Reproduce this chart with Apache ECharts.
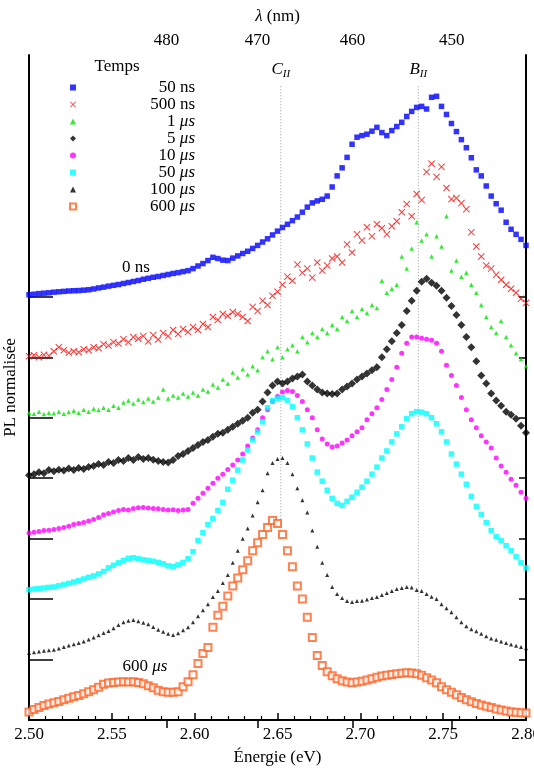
<!DOCTYPE html>
<html lang="fr">
<head>
<meta charset="UTF-8">
<title>PL résolue en temps</title>
<script src="https://cdn.jsdelivr.net/npm/echarts@6.0.0/dist/echarts.min.js"></script>
<style>
  html, body { margin: 0; padding: 0; background: #fff; }
  #main { width: 534px; height: 771px; }
</style>
</head>
<body>
<div id="main"></div>
<script>
var energy = [
  2.500,2.503,2.506,2.509,2.512,2.515,2.518,2.521,2.524,2.527,
  2.530,2.533,2.536,2.539,2.542,2.545,2.548,2.551,2.554,2.557,
  2.560,2.563,2.566,2.569,2.572,2.575,2.578,2.581,2.584,2.587,
  2.590,2.593,2.596,2.599,2.602,2.605,2.608,2.611,2.614,2.617,
  2.620,2.623,2.626,2.629,2.632,2.635,2.638,2.641,2.644,2.647,
  2.650,2.653,2.656,2.659,2.662,2.665,2.668,2.671,2.674,2.677,
  2.680,2.683,2.686,2.689,2.692,2.695,2.698,2.701,2.704,2.707,
  2.710,2.713,2.716,2.719,2.722,2.725,2.728,2.731,2.734,2.737,
  2.740,2.743,2.746,2.749,2.752,2.755,2.758,2.761,2.764,2.767,
  2.770,2.773,2.776,2.779,2.782,2.785,2.788,2.791,2.794,2.797,
  2.800
];

var pl50ns = [
  0.010,0.013,0.016,0.018,0.020,0.023,0.025,0.027,0.029,0.030,
  0.031,0.033,0.035,0.039,0.044,0.048,0.053,0.057,0.061,0.066,
  0.071,0.076,0.081,0.087,0.092,0.097,0.101,0.106,0.111,0.116,
  0.120,0.125,0.130,0.140,0.153,0.165,0.180,0.196,0.190,0.182,
  0.180,0.192,0.203,0.215,0.226,0.240,0.255,0.272,0.288,0.307,
  0.326,0.344,0.360,0.378,0.396,0.420,0.445,0.466,0.476,0.484,
  0.500,0.545,0.600,0.640,0.692,0.757,0.792,0.800,0.807,0.822,
  0.841,0.815,0.800,0.825,0.845,0.866,0.895,0.920,0.940,0.945,
  0.932,0.990,0.995,0.945,0.905,0.860,0.820,0.780,0.740,0.690,
  0.630,0.600,0.550,0.500,0.462,0.430,0.370,0.335,0.310,0.285,
  0.255
];
var pl500ns = [
  0.005,0.010,0.000,0.012,0.008,0.030,0.050,0.035,0.022,0.030,
  0.025,0.040,0.035,0.050,0.045,0.065,0.058,0.075,0.068,0.090,
  0.075,0.100,0.092,0.105,0.078,0.110,0.088,0.120,0.105,0.135,
  0.115,0.140,0.125,0.150,0.135,0.165,0.150,0.200,0.185,0.215,
  0.205,0.225,0.215,0.200,0.180,0.250,0.230,0.280,0.260,0.305,
  0.325,0.360,0.400,0.380,0.460,0.420,0.440,0.395,0.470,0.430,
  0.455,0.490,0.500,0.470,0.560,0.520,0.610,0.580,0.645,0.600,
  0.660,0.640,0.610,0.650,0.675,0.720,0.760,0.700,0.810,0.780,
  0.920,0.960,0.895,0.945,0.840,0.785,0.790,0.765,0.735,0.620,
  0.550,0.500,0.455,0.440,0.410,0.385,0.360,0.340,0.320,0.290,
  0.270
];
var pl1us = [
  0.025,0.020,0.030,0.018,0.025,0.022,0.030,0.020,0.028,0.035,
  0.025,0.040,0.030,0.045,0.038,0.050,0.040,0.060,0.050,0.075,
  0.085,0.070,0.090,0.078,0.095,0.080,0.100,0.140,0.095,0.110,
  0.100,0.120,0.105,0.125,0.110,0.140,0.130,0.165,0.150,0.190,
  0.170,0.225,0.200,0.240,0.215,0.255,0.235,0.300,0.330,0.290,
  0.350,0.300,0.340,0.360,0.330,0.400,0.375,0.420,0.400,0.440,
  0.420,0.460,0.440,0.500,0.480,0.530,0.500,0.540,0.520,0.560,
  0.545,0.680,0.620,0.640,0.660,0.800,0.740,0.840,0.970,0.880,
  0.910,0.800,0.900,0.850,1.000,0.730,0.780,0.700,0.720,0.660,
  0.620,0.560,0.500,0.450,0.420,0.480,0.400,0.360,0.320,0.290,
  0.255
];
var pl5us = [
  0.015,0.020,0.030,0.025,0.040,0.035,0.042,0.038,0.048,0.040,
  0.050,0.045,0.055,0.060,0.070,0.065,0.080,0.075,0.090,0.085,
  0.100,0.090,0.105,0.095,0.100,0.092,0.085,0.080,0.078,0.090,
  0.110,0.120,0.135,0.150,0.165,0.180,0.190,0.205,0.220,0.225,
  0.240,0.255,0.270,0.285,0.300,0.325,0.340,0.380,0.425,0.460,
  0.480,0.470,0.480,0.495,0.505,0.515,0.480,0.460,0.440,0.425,
  0.420,0.418,0.420,0.440,0.455,0.470,0.490,0.505,0.520,0.535,
  0.550,0.600,0.640,0.680,0.720,0.760,0.830,0.880,0.930,0.975,
  0.990,0.970,0.955,0.930,0.895,0.855,0.810,0.760,0.700,0.650,
  0.580,0.510,0.470,0.420,0.385,0.360,0.330,0.315,0.295,0.260,
  0.225
];
var pl10us = [
  0.028,0.032,0.035,0.040,0.042,0.045,0.050,0.055,0.062,0.070,
  0.075,0.080,0.087,0.095,0.105,0.118,0.125,0.132,0.140,0.145,
  0.142,0.150,0.153,0.155,0.152,0.150,0.148,0.145,0.142,0.143,
  0.140,0.142,0.145,0.175,0.200,0.225,0.250,0.275,0.300,0.320,
  0.343,0.365,0.390,0.420,0.460,0.500,0.540,0.600,0.640,0.680,
  0.705,0.728,0.735,0.730,0.710,0.680,0.640,0.600,0.540,0.495,
  0.470,0.455,0.460,0.475,0.490,0.510,0.530,0.550,0.590,0.620,
  0.650,0.690,0.740,0.790,0.850,0.920,0.970,1.000,1.000,0.995,
  0.990,0.985,0.970,0.930,0.860,0.810,0.760,0.700,0.640,0.590,
  0.550,0.510,0.480,0.450,0.400,0.360,0.330,0.295,0.265,0.230,
  0.200
];
var pl50us = [
  0.046,0.050,0.052,0.055,0.058,0.060,0.066,0.072,0.078,0.085,
  0.092,0.100,0.108,0.115,0.125,0.137,0.155,0.168,0.180,0.192,
  0.202,0.205,0.200,0.195,0.192,0.188,0.182,0.175,0.165,0.162,
  0.170,0.182,0.200,0.235,0.290,0.330,0.370,0.400,0.440,0.480,
  0.545,0.590,0.640,0.690,0.740,0.790,0.830,0.880,0.950,0.985,
  0.995,1.000,0.985,0.955,0.900,0.840,0.770,0.700,0.630,0.585,
  0.540,0.500,0.475,0.465,0.485,0.505,0.530,0.555,0.585,0.620,
  0.655,0.700,0.735,0.780,0.820,0.855,0.895,0.920,0.930,0.928,
  0.920,0.900,0.870,0.830,0.780,0.720,0.670,0.620,0.570,0.510,
  0.460,0.420,0.380,0.340,0.310,0.290,0.265,0.240,0.210,0.180,
  0.155
];
var pl100us = [
  0.032,0.036,0.040,0.044,0.046,0.048,0.055,0.062,0.070,0.076,
  0.082,0.090,0.100,0.110,0.120,0.132,0.142,0.155,0.172,0.185,
  0.192,0.196,0.190,0.182,0.175,0.162,0.148,0.138,0.128,0.122,
  0.130,0.145,0.160,0.185,0.215,0.245,0.275,0.310,0.340,0.380,
  0.420,0.480,0.540,0.600,0.650,0.715,0.780,0.840,0.925,0.975,
  0.995,1.000,0.975,0.920,0.850,0.790,0.730,0.640,0.560,0.480,
  0.420,0.360,0.325,0.305,0.290,0.285,0.290,0.292,0.298,0.305,
  0.310,0.320,0.330,0.340,0.350,0.355,0.360,0.358,0.345,0.340,
  0.325,0.312,0.300,0.275,0.255,0.235,0.210,0.185,0.165,0.150,
  0.140,0.128,0.115,0.105,0.098,0.090,0.082,0.075,0.068,0.062,
  0.056
];
var pl600us = [
  0.040,0.052,0.062,0.072,0.080,0.086,0.092,0.100,0.108,0.115,
  0.122,0.130,0.140,0.150,0.162,0.178,0.184,0.186,0.188,0.190,
  0.188,0.190,0.186,0.180,0.170,0.160,0.148,0.140,0.138,0.138,
  0.140,0.165,0.190,0.225,0.280,0.330,0.360,0.460,0.520,0.565,
  0.615,0.665,0.705,0.745,0.790,0.840,0.880,0.920,0.955,0.990,
  0.975,0.920,0.840,0.760,0.665,0.600,0.510,0.410,0.320,0.270,
  0.240,0.220,0.205,0.195,0.188,0.185,0.188,0.192,0.198,0.205,
  0.212,0.218,0.222,0.226,0.230,0.232,0.234,0.233,0.230,0.222,
  0.210,0.198,0.185,0.165,0.150,0.138,0.125,0.112,0.100,0.090,
  0.082,0.075,0.068,0.062,0.055,0.050,0.045,0.040,0.038,0.036,
  0.035
];

// délais et décalage vertical de chaque spectre
var delays = ['50 ns', '500 ns', '1 μs', '5 μs', '10 μs', '50 μs', '100 μs', '600 μs'];
var offsets = [2.1, 1.8, 1.5, 1.2, 0.9, 0.6, 0.3, 0];
var spectra = [pl50ns, pl500ns, pl1us, pl5us, pl10us, pl50us, pl100us, pl600us];
var colors = ['#0000ff', '#ff0000', '#00e600', '#000000', '#ff00ff', '#00ffff', '#000000', '#ff6326'];
var symbols = [
  'rect',
  'path://M0,1L1,0L5,4L9,0L10,1L6,5L10,9L9,10L5,6L1,10L0,9L4,5Z',
  'triangle',
  'diamond',
  'circle',
  'rect',
  'triangle',
  'emptyRect'
];
var symbolSizes = [5.5, 7, 4.5, 8, 5, 5.5, 4, 7];

// raies C_II et B_II
var peakNames = ['C', 'B'];
var peakEnergy = [2.652, 2.735];
var peakTop = 3.145;
var peakBottom = [0.94, 0.238];

var lambdaTicks = [480, 470, 460, 450];
var hc = 1239.84;

var FONT = 'Liberation Serif';
var myChart = echarts.init(document.getElementById('main'), null, { renderer: 'canvas' });

var series = [];
for (var s = 0; s < spectra.length; s++) {
  var pts = [];
  for (var i = 0; i < energy.length; i++) {
    pts.push([energy[i], spectra[s][i] + offsets[s]]);
  }
  series.push({
    name: delays[s],
    type: 'scatter',
    data: pts,
    symbol: symbols[s],
    symbolSize: symbolSizes[s],
    itemStyle: s === 7
      ? { color: colors[s], borderColor: colors[s], borderWidth: 1.2 }
      : { color: colors[s] },
    z: 3
  });
}

for (var k = 0; k < peakNames.length; k++) {
  series.push({
    type: 'line',
    data: [
      {
        value: [peakEnergy[k], peakTop],
        label: {
          show: true,
          position: 'top',
          distance: 7,
          formatter: '{a|' + peakNames[k] + '}{b|II}',
          rich: {
            a: { fontFamily: FONT, fontSize: 17, fontStyle: 'italic', color: '#000', lineHeight: 20 },
            b: { fontFamily: FONT, fontSize: 11, fontStyle: 'italic', color: '#000', lineHeight: 14, verticalAlign: 'bottom' }
          }
        }
      },
      [peakEnergy[k], peakBottom[k]]
    ],
    symbol: 'circle',
    symbolSize: 0,
    lineStyle: { color: '#9a9a9a', width: 1, type: [1, 2] },
    silent: true,
    z: 1
  });
}

var option = {
  animation: false,
  backgroundColor: '#fff',
  textStyle: { fontFamily: FONT, color: '#000' },
  grid: { left: 29, right: 8, top: 55, bottom: 51, outerBoundsMode: 'none' },
  legend: {
    data: delays,
    orient: 'vertical',
    left: 64,
    top: 74,
    itemGap: 0,
    itemWidth: 6,
    itemHeight: 6,
    selectedMode: false,
    formatter: function (name) {
      var p = name.split(' ');
      var unit = p[1] === 'ns' ? '{u|ns}' : '{i|μs}';
      return '{n|' + p[0] + ' }' + unit;
    },
    textStyle: {
      fontFamily: FONT,
      fontSize: 17,
      color: '#000',
      lineHeight: 15,
      width: 114,
      rich: {
        n: { fontFamily: FONT, fontSize: 17, align: 'right', lineHeight: 15 },
        u: { fontFamily: FONT, fontSize: 17, align: 'right', lineHeight: 15 },
        i: { fontFamily: FONT, fontSize: 17, fontStyle: 'italic', align: 'right', lineHeight: 15 }
      }
    }
  },
  xAxis: [
    {
      type: 'value',
      position: 'bottom',
      min: 2.5,
      max: 2.8,
      interval: 0.05,
      name: 'Énergie (eV)',
      nameLocation: 'middle',
      nameGap: 29,
      nameTextStyle: { fontFamily: FONT, fontSize: 17, color: '#000' },
      axisLine: { lineStyle: { color: '#000', width: 2 } },
      axisTick: { inside: true, length: 7, lineStyle: { color: '#000', width: 1.5 } },
      minorTick: { show: true, splitNumber: 5, length: 4, lineStyle: { color: '#000', width: 1.2 } },
      axisLabel: {
        margin: 6,
        fontFamily: FONT,
        fontSize: 17,
        color: '#000',
        formatter: function (v) { return v.toFixed(2); }
      },
      splitLine: { show: false }
    },
    {
      type: 'value',
      position: 'top',
      min: 2.5,
      max: 2.8,
      name: '{l|λ} (nm)',
      nameLocation: 'middle',
      nameGap: 30,
      nameTextStyle: {
        fontFamily: FONT, fontSize: 17, color: '#000',
        rich: { l: { fontFamily: FONT, fontSize: 17, fontStyle: 'italic', color: '#000' } }
      },
      axisLine: { lineStyle: { color: '#000', width: 2 } },
      axisTick: {
        inside: true,
        length: 8,
        customValues: lambdaTicks.map(function (l) { return hc / l; }),
        lineStyle: { color: '#000', width: 1.5 }
      },
      axisLabel: {
        margin: 6,
        fontFamily: FONT,
        fontSize: 17,
        color: '#000',
        customValues: lambdaTicks.map(function (l) { return hc / l; }),
        formatter: function (v) { return String(Math.round(hc / v)); }
      },
      splitLine: { show: false }
    }
  ],
  yAxis: [
    {
      type: 'value',
      position: 'left',
      min: 0,
      max: 3.3,
      name: 'PL normalisée',
      nameLocation: 'middle',
      nameGap: 10,
      nameRotate: 90,
      nameTextStyle: { fontFamily: FONT, fontSize: 17, color: '#000' },
      axisLine: { show: true, lineStyle: { color: '#000', width: 2 } },
      axisTick: {
        inside: true,
        length: 24,
        customValues: offsets.slice(0, 7),
        lineStyle: { color: '#000', width: 1.5 }
      },
      axisLabel: { show: false },
      splitLine: { show: false }
    },
    {
      type: 'value',
      position: 'right',
      min: 0,
      max: 3.3,
      axisLine: { show: true, lineStyle: { color: '#000', width: 2 } },
      axisTick: {
        inside: true,
        length: 7,
        customValues: offsets.slice(0, 7),
        lineStyle: { color: '#000', width: 1.5 }
      },
      axisLabel: { show: false },
      splitLine: { show: false }
    }
  ],
  graphic: [
    {
      type: 'text', x: 117, y: 67,
      style: { text: 'Temps', font: '17px "Liberation Serif"', fill: '#000', align: 'center', verticalAlign: 'middle' }
    },
    {
      type: 'text', x: 136, y: 268,
      style: { text: '0 ns', font: '17px "Liberation Serif"', fill: '#000', align: 'center', verticalAlign: 'middle' }
    },
    {
      type: 'text', x: 145, y: 667,
      style: {
        text: '{n|600 }{i|μs}', align: 'center', verticalAlign: 'middle',
        rich: {
          n: { font: '17px "Liberation Serif"', fill: '#000' },
          i: { font: 'italic 17px "Liberation Serif"', fill: '#000' }
        }
      }
    }
  ],
  series: series
};

myChart.setOption(option);
</script>
</body>
</html>
